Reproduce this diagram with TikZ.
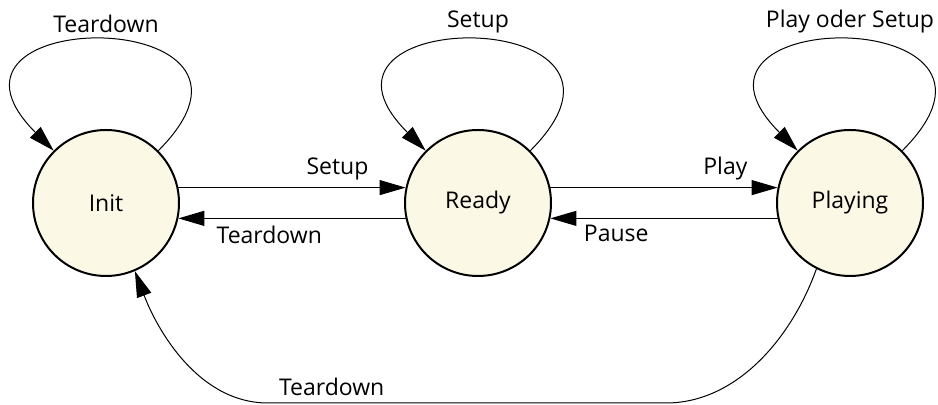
\documentclass[tikz,border=0pt]{standalone}
\usepackage{fontspec}
\setmainfont{Open Sans}
\usetikzlibrary{calc,arrows.meta}
\definecolor{statefill}{RGB}{252,248,230}

\begin{document}
\begin{tikzpicture}[x=0.5pt, y=0.5pt, font=\fontsize{11.5}{14}\selectfont, % 1単位 = 0.5pt
  state/.style={circle, draw, line width=1pt, fill=statefill, minimum size=73pt, inner sep=0pt}, % 状態
  trans/.style={line width=0.5pt, -{Triangle[length=13pt, width=7.5pt]}}] % 遷移の矢印
  \useasboundingbox (0,0) rectangle (938,405); % 全体の大きさ

  \node[state] (init) at (106,202) {Init}; % 初期状態
  \node[state] (ready) at (478,202) {Ready};
  \node[state] (play) at (850,202) {Playing};

  \draw[trans] (init.45) to[out=45, in=135, looseness=5.1] node[midway, above] {Teardown} (init.135); % 自己ループ
  \draw[trans] (ready.45) to[out=45, in=135, looseness=5.1] node[midway, above] {Setup} (ready.135);
  \draw[trans] (play.45) to[out=45, in=135, looseness=5.1] node[midway, above] {Play oder Setup} (play.135);

  \draw[trans] (init.12) -- (ready.168) node[pos=0.7, above] {Setup}; % 上の矢印
  \draw[trans] (ready.192) -- (init.348) node[pos=0.6, below] {Teardown}; % 下の矢印
  \draw[trans] (ready.12) -- (play.168) node[pos=0.77, above] {Play};
  \draw[trans] (play.192) -- (ready.348) node[pos=0.71, below] {Pause};

  \draw[trans] (play.243) .. controls +(-25,-70) and (736,2) .. (666,2) -- node[pos=0.84, above] {Teardown} (268,2)
    .. controls (198,2) and +(22,-58) .. (init.293); % 下を回る矢印

\end{tikzpicture}
\end{document}
